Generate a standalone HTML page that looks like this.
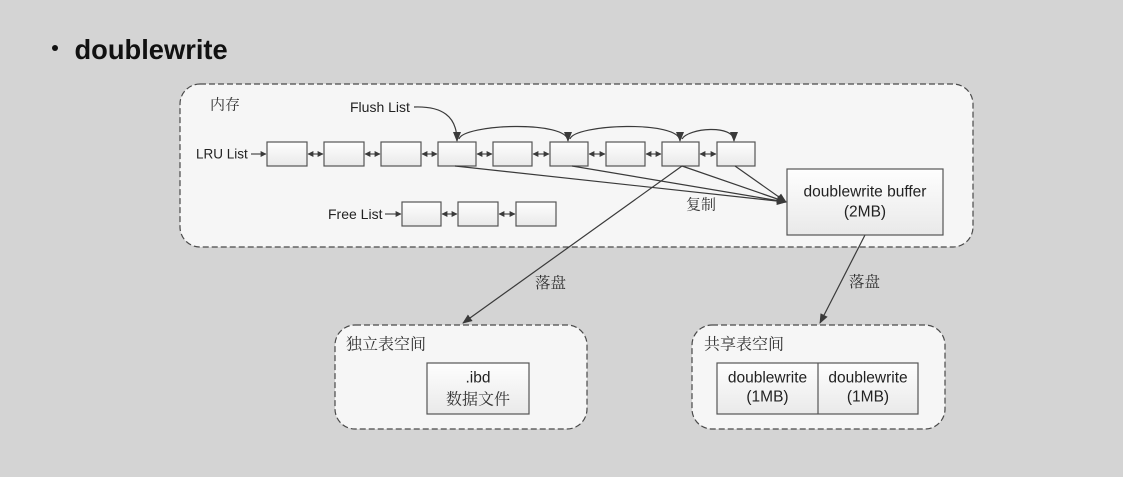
<!DOCTYPE html>
<html><head><meta charset="utf-8"><style>
html,body{margin:0;padding:0;background:#d4d4d4;}
svg{display:block;}
.t{font-family:"Liberation Sans","Noto Sans CJK SC",sans-serif;fill:#222;}
.c{font-family:"Noto Serif CJK SC","Liberation Serif",serif;fill:#333;}
</style></head><body>
<svg width="1123" height="477" viewBox="0 0 1123 477" xmlns="http://www.w3.org/2000/svg">
<defs>
<linearGradient id="g" x1="0" y1="0" x2="0" y2="1">
<stop offset="0" stop-color="#fefefe"/><stop offset="1" stop-color="#e9e9e9"/>
</linearGradient>
<marker id="a" viewBox="0 0 10 10" refX="9" refY="5" markerWidth="10" markerHeight="10" markerUnits="userSpaceOnUse" orient="auto">
<path d="M0,1 L10,5 L0,9 z" fill="#3a3a3a"/>
</marker>
<marker id="s" viewBox="0 0 10 10" refX="9" refY="5" markerWidth="6" markerHeight="7" markerUnits="userSpaceOnUse" orient="auto-start-reverse">
<path d="M0,0 L10,5 L0,10 z" fill="#3a3a3a"/>
</marker>
</defs>
<rect width="1123" height="477" fill="#d4d4d4"/>

<!-- title -->
<circle cx="55" cy="48" r="3" fill="#111"/>
<text x="74.5" y="59" font-family="Liberation Sans, sans-serif" font-weight="bold" font-size="27.3" fill="#111">doublewrite</text>

<!-- memory box -->
<rect x="180" y="84" width="793" height="163" rx="20" ry="20" fill="#f6f6f6" stroke="#4a4a4a" stroke-width="1.2" stroke-dasharray="6 3"/>
<text class="c" x="210" y="104" font-size="15" dominant-baseline="central">内存</text>

<text class="t" x="350" y="107" font-size="14" dominant-baseline="central">Flush List</text>
<text class="t" x="196" y="154" font-size="13.5" dominant-baseline="central">LRU List</text>
<text class="t" x="328" y="214" font-size="14" dominant-baseline="central">Free List</text>

<g stroke="#555" stroke-width="1.2" fill="url(#g)">
<rect x="267" y="142" width="40" height="24"/>
<rect x="324" y="142" width="40" height="24"/>
<rect x="381" y="142" width="40" height="24"/>
<rect x="438" y="142" width="38" height="24"/>
<rect x="493" y="142" width="39" height="24"/>
<rect x="550" y="142" width="38" height="24"/>
<rect x="606" y="142" width="39" height="24"/>
<rect x="662" y="142" width="37" height="24"/>
<rect x="717" y="142" width="38" height="24"/>
<rect x="402" y="202" width="39" height="24"/>
<rect x="458" y="202" width="40" height="24"/>
<rect x="516" y="202" width="40" height="24"/>
</g>

<g stroke="#3a3a3a" stroke-width="1.1" fill="none">
<line x1="251" y1="154" x2="266" y2="154" marker-end="url(#s)"/>
<line x1="385" y1="214" x2="401" y2="214" marker-end="url(#s)"/>
<line x1="308" y1="154" x2="323" y2="154" marker-start="url(#s)" marker-end="url(#s)"/>
<line x1="365" y1="154" x2="380" y2="154" marker-start="url(#s)" marker-end="url(#s)"/>
<line x1="422" y1="154" x2="437" y2="154" marker-start="url(#s)" marker-end="url(#s)"/>
<line x1="477" y1="154" x2="492" y2="154" marker-start="url(#s)" marker-end="url(#s)"/>
<line x1="533" y1="154" x2="549" y2="154" marker-start="url(#s)" marker-end="url(#s)"/>
<line x1="589" y1="154" x2="605" y2="154" marker-start="url(#s)" marker-end="url(#s)"/>
<line x1="646" y1="154" x2="661" y2="154" marker-start="url(#s)" marker-end="url(#s)"/>
<line x1="700" y1="154" x2="716" y2="154" marker-start="url(#s)" marker-end="url(#s)"/>
<line x1="442" y1="214" x2="457" y2="214" marker-start="url(#s)" marker-end="url(#s)"/>
<line x1="499" y1="214" x2="515" y2="214" marker-start="url(#s)" marker-end="url(#s)"/>
</g>

<g stroke="#3a3a3a" stroke-width="1.2" fill="none">
<path d="M414,107 C442,106 457,116 457,141" marker-end="url(#a)"/>
<path d="M459,139 C463,124 568,120 568,141" marker-end="url(#a)"/>
<path d="M570,139 C574,124 680,120 680,141" marker-end="url(#a)"/>
<path d="M682,139 C688,128 734,124 734,141" marker-end="url(#a)"/>
<line x1="455" y1="166" x2="786" y2="202" marker-end="url(#a)"/>
<line x1="572" y1="166" x2="786" y2="202" marker-end="url(#a)"/>
<line x1="682" y1="166" x2="786" y2="202" marker-end="url(#a)"/>
<line x1="735" y1="166" x2="786" y2="202" marker-end="url(#a)"/>
<line x1="682" y1="166" x2="463" y2="323" marker-end="url(#a)"/>
<line x1="865" y1="235" x2="820" y2="323" marker-end="url(#a)"/>
</g>

<rect x="787" y="169" width="156" height="66" fill="url(#g)" stroke="#555" stroke-width="1.2"/>
<text class="t" x="865" y="192" font-size="15.5" text-anchor="middle" dominant-baseline="central">doublewrite buffer</text>
<text class="t" x="865" y="212" font-size="15.5" text-anchor="middle" dominant-baseline="central">(2MB)</text>
<text class="c" x="686" y="204" font-size="15" dominant-baseline="central">复制</text>

<text class="c" x="535" y="282" font-size="15.5" dominant-baseline="central">落盘</text>
<text class="c" x="849" y="281" font-size="15.5" dominant-baseline="central">落盘</text>

<!-- lower boxes -->
<rect x="335" y="325" width="252" height="104" rx="20" ry="20" fill="#f6f6f6" stroke="#4a4a4a" stroke-width="1.2" stroke-dasharray="6 3"/>
<text class="c" x="346" y="343" font-size="16" dominant-baseline="central">独立表空间</text>
<rect x="427" y="363" width="102" height="51" fill="url(#g)" stroke="#555" stroke-width="1.2"/>
<text class="t" x="478" y="378" font-size="15.5" text-anchor="middle" dominant-baseline="central">.ibd</text>
<text class="c" x="478" y="398" font-size="16" text-anchor="middle" dominant-baseline="central">数据文件</text>

<rect x="692" y="325" width="253" height="104" rx="20" ry="20" fill="#f6f6f6" stroke="#4a4a4a" stroke-width="1.2" stroke-dasharray="6 3"/>
<text class="c" x="704" y="343" font-size="16" dominant-baseline="central">共享表空间</text>
<rect x="717" y="363" width="201" height="51" fill="url(#g)" stroke="#555" stroke-width="1.2"/>
<line x1="818" y1="363" x2="818" y2="414" stroke="#555" stroke-width="1.2"/>
<text class="t" x="767.5" y="378" font-size="15.5" text-anchor="middle" dominant-baseline="central">doublewrite</text>
<text class="t" x="767.5" y="397" font-size="15.5" text-anchor="middle" dominant-baseline="central">(1MB)</text>
<text class="t" x="868" y="378" font-size="15.5" text-anchor="middle" dominant-baseline="central">doublewrite</text>
<text class="t" x="868" y="397" font-size="15.5" text-anchor="middle" dominant-baseline="central">(1MB)</text>
</svg>
</body></html>
